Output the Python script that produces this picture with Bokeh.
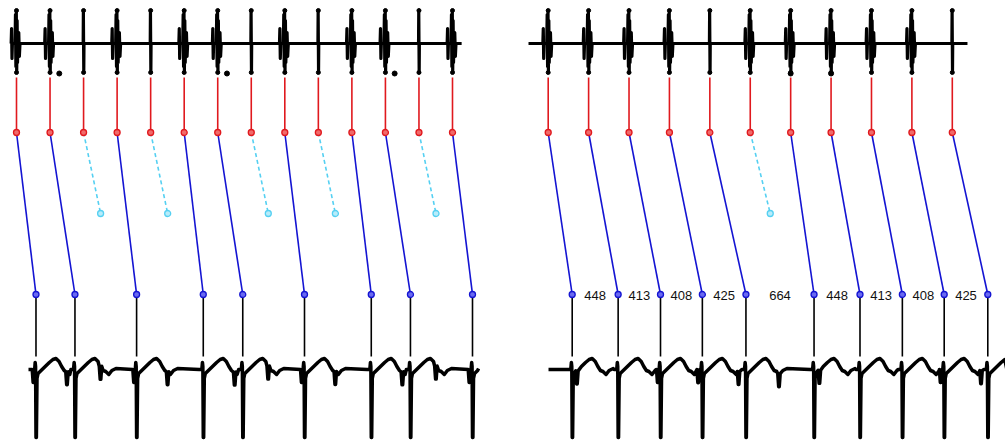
import numpy as np
from bokeh.plotting import figure
from bokeh.layouts import row
from bokeh.models import Range1d, ColumnDataSource
from bokeh.embed import file_html
from bokeh.resources import INLINE
from bokeh.core.properties import value

MS_PER_PX = 9.75

# ---- Left strip: atrial cycle with alternating 3:2 and 2:1 conduction ----
left_pp = 327                      # P-P interval, ms
left_pr = [190, 243, None, 190, None, 186, 244, None, 192, None, 189, 244, None, 195]
left_blocked_reach = 166           # ms travelled by a blocked impulse at mid level
left_burst = [1, 1, 0, 1, 0, 1, 1, 0, 1, 0, 1, 1, 0, 1]
left_dots = [(1, 90), (6, 90), (11, 90)]       # (P index, offset ms)
left_p_notch = 165                 # surface P deflection after atrial spike, ms

# ---- Right strip: 6:5 Wenckebach ----
right_pp = 394
right_first_pr = 234
right_rr = [448, 413, 408, 425, 664, 448, 413, 408, 425]
right_conducted = [1, 1, 1, 1, 1, 0, 1, 1, 1, 1, 1]
right_blocked_reach = 195
right_burst = [1, 1, 1, 1, 0, 1, 1, 1, 1, 1, 0]
right_dots = [(6, 0), (7, 0)]
right_p_notch = 280

# Ladder levels (vertical positions, px from top)
Y_A_TOP, Y_A, Y_MID, Y_V, Y_V_BOT = 77, 132, 213, 294, 356
Y_TOP_BASE, Y_TOP_HI, Y_TOP_LO = 43, 10, 72
Y_ECG_BASE = 368

# one ventricular complex on the surface lead (ms from R, y)
QRS_T = [(-40, 369), (-14, 369), (-8, 362), (-4, 366), (0, 437), (4, 437),
         (10, 378), (20, 373), (50, 370), (90, 366), (130, 362), (165, 359),
         (195, 358), (225, 361), (250, 366), (275, 370), (300, 371),
         (330, 374), (360, 370), (400, 368)]
# atrial electrogram: thin spike, and spike with ventricular far-field strokes
SPIKE = [(-10, 43), (-4, 43), (-2, 10), (2, 72), (4, 43), (10, 43)]
BURST = [(-52, 43), (-48, 28), (-44, 58), (-40, 43), (-14, 43), (-10, 14),
         (-6, 66), (-2, 10), (2, 72), (6, 20), (10, 62), (14, 43),
         (22, 32), (28, 56), (34, 43)]

RED, BLUE, CYAN, INK = "#e0191e", "#1414d2", "#55d0f2", "#000000"


def surface_trace(r_times, p_marks, t0, t1):
    xs, ys = [t0], [Y_ECG_BASE + 1]
    for i, r in enumerate(r_times):
        nxt = r_times[i + 1] if i + 1 < len(r_times) else None
        for dt, y in QRS_T:
            t = r + dt
            if t <= xs[-1] or t > t1:
                continue
            if nxt is not None and t > nxt - 45:
                continue
            xs.append(t)
            ys.append(y)
    xs.append(t1)
    ys.append(Y_ECG_BASE)
    # small P deflections riding on the tracing
    for t in p_marks:
        if not (t0 + 10 < t < t1 - 10) or any(abs(t - r) < 25 for r in r_times):
            continue
        base = float(np.interp(t, xs, ys))
        k = int(np.searchsorted(xs, t - 12))
        j = int(np.searchsorted(xs, t + 12))
        xs = xs[:k] + [t - 12, t - 3, t + 3, t + 12] + xs[j:]
        ys = ys[:k] + [base, base + 13, base + 13, base] + ys[j:]
    return xs, ys


def atrial_trace(p_times, bursts, t0, t1):
    xs, ys = [t0], [Y_TOP_BASE]
    for p, b in zip(p_times, bursts):
        for dt, y in (BURST if b else SPIKE):
            t = p + dt
            if t <= xs[-1] or t > t1:
                continue
            xs.append(t)
            ys.append(y)
    xs.append(t1)
    ys.append(Y_TOP_BASE)
    return xs, ys


def panel(width, x0_px, p_times, pr, reach, bursts, dots, notch,
          top_span, bottom_span, rr_labels=None):
    start = -x0_px * MS_PER_PX
    p = figure(width=width, height=441, output_backend="svg", toolbar_location=None,
               x_range=Range1d(start, start + width * MS_PER_PX),
               y_range=Range1d(441, 0), x_axis_type=None, y_axis_type=None,
               min_border=0)
    p.grid.visible = False
    p.outline_line_color = None
    p.background_fill_color = "white"

    conducted = [(pt, pt + d) for pt, d in zip(p_times, pr) if d is not None]
    blocked = [pt for pt, d in zip(p_times, pr) if d is None]
    r_times = [r for _, r in conducted]

    # tracings
    ax, ay = atrial_trace(p_times, bursts, *top_span)
    p.line(ax, ay, line_color=INK, line_width=3.2, line_join="round")
    p.scatter(p_times, [Y_TOP_HI] * len(p_times), size=4, color=INK)
    p.scatter(p_times, [Y_TOP_LO] * len(p_times), size=4, color=INK)
    p.scatter([p_times[i] + o for i, o in dots], [Y_TOP_LO + 1] * len(dots),
              size=5, color=INK)

    sx, sy = surface_trace(r_times, [pt + notch for pt in p_times], *bottom_span)
    p.line(sx, sy, line_color=INK, line_width=3.5, line_join="round")

    # ladder: atrial level
    p.segment(p_times, [Y_A_TOP] * len(p_times), p_times, [Y_A] * len(p_times),
              line_color=RED, line_width=1.6)
    # AV conduction
    cp = [c[0] for c in conducted]
    p.segment(cp, [Y_A] * len(cp), r_times, [Y_V] * len(cp),
              line_color=BLUE, line_width=1.6)
    p.segment(blocked, [Y_A] * len(blocked), [b + reach for b in blocked],
              [Y_MID] * len(blocked), line_color=CYAN, line_width=1.6,
              line_dash="4 3")
    p.scatter([b + reach for b in blocked], [Y_MID] * len(blocked), size=6,
              line_color=CYAN, fill_color="#b8ecfa", line_width=1.3)
    # ventricular level
    p.segment(r_times, [Y_V] * len(r_times), r_times, [Y_V_BOT] * len(r_times),
              line_color=INK, line_width=1.6)
    p.scatter(p_times, [Y_A] * len(p_times), size=6, line_color=RED,
              fill_color="#f06a6a", line_width=1.3)
    p.scatter(r_times, [Y_V] * len(r_times), size=6, line_color=BLUE,
              fill_color="#6a6af0", line_width=1.3)

    if rr_labels is not None:
        mids = [(a + b) / 2 for a, b in zip(r_times[:-1], r_times[1:])]
        src = ColumnDataSource(dict(x=mids, y=[Y_V + 1] * len(mids),
                                    t=[str(v) for v in rr_labels]))
        p.text("x", "y", text="t", source=src, text_align="center",
               text_baseline="middle", text_font=value("Liberation Sans"),
               text_font_size="13px", text_color="#111111")
    return p


# left strip
lp = [k * left_pp for k in range(len(left_pr))]
left = panel(505, 16, lp, left_pr, left_blocked_reach, left_burst, left_dots,
             left_p_notch, top_span=(-58, 4340), bottom_span=(117, 4505))

# right strip: ventricular times follow the measured R-R intervals
rp = [k * right_pp for k in range(len(right_conducted))]
r_times = list(np.cumsum([right_first_pr] + right_rr))
right_pr = []
it = iter(r_times)
for pt, c in zip(rp, right_conducted):
    right_pr.append(next(it) - pt if c else None)
right = panel(500, 42.7, rp, right_pr, right_blocked_reach, right_burst,
              right_dots, right_p_notch, top_span=(-192, 4088),
              bottom_span=(3, 4470), rr_labels=right_rr)

layout = row(left, right, spacing=0)
open("out.html", "w").write(file_html(layout, INLINE))
